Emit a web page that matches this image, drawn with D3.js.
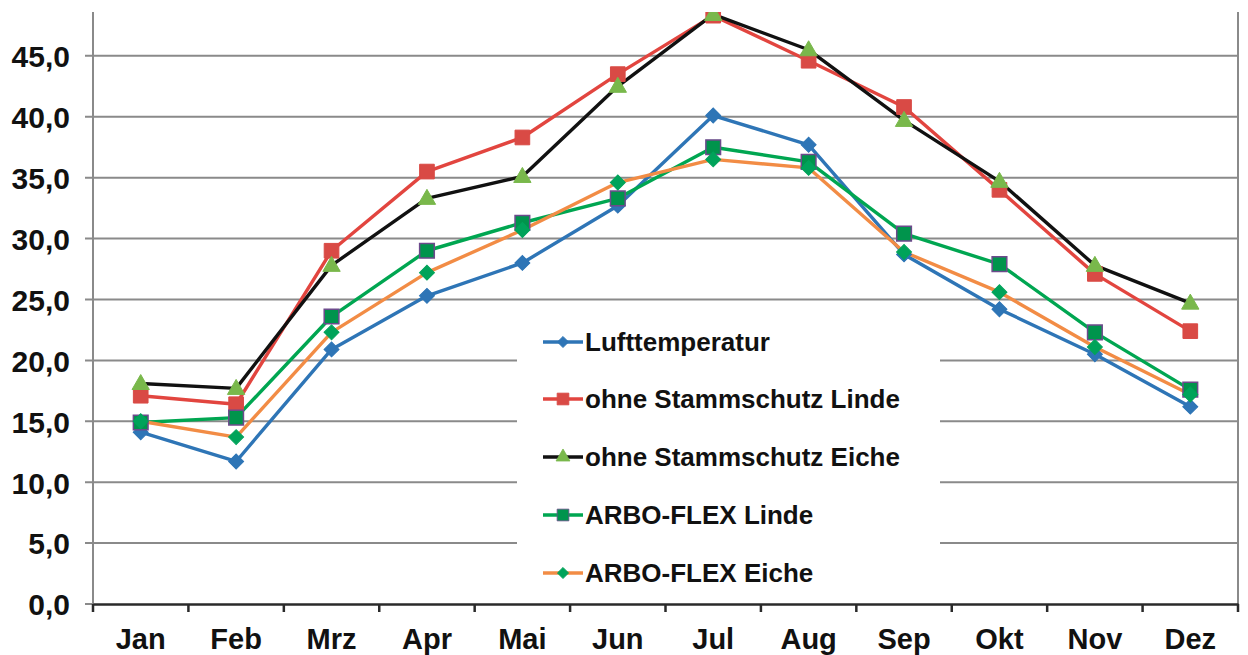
<!DOCTYPE html>
<html><head><meta charset="utf-8">
<script src="https://cdn.jsdelivr.net/npm/d3@7"></script>
<style>body{margin:0;background:#fff}svg{display:block}</style>
</head><body>
<svg id="c" width="1248" height="655"></svg>
<script>
const months = ["Jan","Feb","Mrz","Apr","Mai","Jun","Jul","Aug","Sep","Okt","Nov","Dez"];
const yTicks = [0,5,10,15,20,25,30,35,40,45];
const seriesNames = ["Lufttemperatur","ohne Stammschutz Linde","ohne Stammschutz Eiche","ARBO-FLEX Linde","ARBO-FLEX Eiche"];
const luft      = [14.1,11.7,20.9,25.3,28.0,32.7,40.1,37.7,28.7,24.2,20.5,16.2];
const ohneLinde = [17.1,16.4,29.0,35.5,38.3,43.5,48.3,44.6,40.8,34.0,27.1,22.4];
const ohneEiche = [18.1,17.7,27.8,33.3,35.1,42.5,48.4,45.5,39.7,34.7,27.8,24.7];
const arboLinde = [14.9,15.3,23.6,29.0,31.3,33.3,37.5,36.3,30.4,27.9,22.3,17.6];
const arboEiche = [15.0,13.7,22.3,27.2,30.7,34.6,36.5,35.8,28.9,25.6,21.1,17.2];

const styles = [
  {line:"#2e75b6", fill:"#2e75b6", stroke:"#2e75b6", shape:"diamond"},
  {line:"#e2453f", fill:"#d94a45", stroke:"#d94a45", shape:"square"},
  {line:"#111111", fill:"#79b84b", stroke:"#79b84b", shape:"triangle"},
  {line:"#00a651", fill:"#00944c", stroke:"#6d4a8c", shape:"square"},
  {line:"#f28c45", fill:"#00a35a", stroke:"#00a35a", shape:"diamond"}
];
const data = [luft, ohneLinde, ohneEiche, arboLinde, arboEiche];

const svg = d3.select("#c");
const L = 93, R = 1238, T = 12, B = 604;
const FONT = "Liberation Sans, Arial, sans-serif";
const x = d3.scaleBand().domain(months).range([L, R]).padding(0);
const y = d3.scaleLinear().domain([0, 48.6]).range([B, T]);

// gridlines
svg.append("g").selectAll("line").data(yTicks.filter(d=>d>0)).join("line")
  .attr("x1", L-8).attr("x2", R).attr("y1", d=>y(d)).attr("y2", d=>y(d))
  .attr("stroke", "#8a8a8a").attr("stroke-width", 2);

// y axis
const yAxis = d3.axisLeft(y).tickValues(yTicks).tickSize(0).tickPadding(0)
  .tickFormat(d=>d3.format(".1f")(d).replace(".", ","));
const gy = svg.append("g").attr("transform", `translate(70,0)`).call(yAxis);
gy.select(".domain").remove();
gy.selectAll("text").attr("font-family",FONT).attr("font-weight","bold")
  .attr("font-size", 30).attr("fill","#111").attr("x", 0).attr("dy","0.36em");

svg.append("line").attr("x1", L).attr("x2", L).attr("y1", T).attr("y2", B).attr("stroke","#8a8a8a").attr("stroke-width",2);
svg.append("line").attr("x1", R).attr("x2", R).attr("y1", T).attr("y2", B).attr("stroke","#8a8a8a").attr("stroke-width",2);
svg.append("line").attr("x1", L-8).attr("x2", L).attr("y1", B).attr("y2", B).attr("stroke","#8a8a8a").attr("stroke-width",2);

// x axis
const xAxis = d3.axisBottom(x).tickSize(0);
const gx = svg.append("g").attr("transform", `translate(0,${B})`).call(xAxis);
gx.select(".domain").attr("stroke","#2a2a2a").attr("stroke-width",2.5);
gx.selectAll("text").attr("font-family",FONT).attr("font-weight","bold")
  .attr("font-size", 29).attr("fill","#111").attr("y", 45).attr("dy","0");
svg.append("g").selectAll("line").data(months.concat(["end"])).join("line")
  .attr("x1", (d,i)=> i<12 ? x(d) : R).attr("x2", (d,i)=> i<12 ? x(d) : R)
  .attr("y1", B).attr("y2", B+8).attr("stroke","#2a2a2a").attr("stroke-width",2.5);

// legend background
svg.append("rect").attr("x",517).attr("y",312).attr("width",423).attr("height",288).attr("fill","#fff");

// series
svg.append("clipPath").attr("id","pc").append("rect").attr("x",L-20).attr("y",T).attr("width",R-L+40).attr("height",B-T+20);
const lineGen = d3.line().x((d,i)=>x(months[i])+x.bandwidth()/2).y(d=>y(d));
function markerPath(s){
  if (s.shape==="diamond") return d3.symbol().type(d3.symbolSquare).size(112)();
  if (s.shape==="square") return d3.symbol().type(d3.symbolSquare).size(215)();
  return d3.symbol().type(d3.symbolTriangle).size(130)();
}
const plot = svg.append("g").attr("clip-path","url(#pc)");
data.forEach((vals, si) => {
  const s = styles[si];
  plot.append("path").datum(vals).attr("d", lineGen).attr("fill","none")
    .attr("stroke", s.line).attr("stroke-width", 3.4).attr("stroke-linejoin","round");
});
data.forEach((vals, si) => {
  const s = styles[si];
  plot.append("g").selectAll("path").data(vals).join("path")
    .attr("d", markerPath(s))
    .attr("transform", (d,i)=>`translate(${x(months[i])+x.bandwidth()/2},${y(d)})` + (s.shape==="diamond" ? " rotate(45)" : (s.shape==="triangle" ? " translate(0,1)" : "")))
    .attr("fill", s.fill).attr("stroke", s.stroke).attr("stroke-width", si===3 ? 1.5 : 1);
});

// legend
const lg = svg.append("g");
const ly = [342, 399, 457, 515, 573];
seriesNames.forEach((name, i) => {
  const s = styles[i];
  lg.append("line").attr("x1",543).attr("x2",583).attr("y1",ly[i]).attr("y2",ly[i]).attr("stroke",s.line).attr("stroke-width",3.4);
  lg.append("path").attr("d", markerPath(s))
    .attr("transform", `translate(563,${ly[i]})` + (s.shape==="diamond" ? " rotate(45) scale(0.75)" : " scale(0.8)"))
    .attr("fill", s.fill).attr("stroke", s.stroke).attr("stroke-width",1);
  lg.append("text").attr("x",585).attr("y",ly[i]).attr("dy","0.36em")
    .attr("font-family",FONT).attr("font-weight","bold").attr("font-size",26)
    .attr("fill","#111").text(name);
});
</script>
</body></html>
